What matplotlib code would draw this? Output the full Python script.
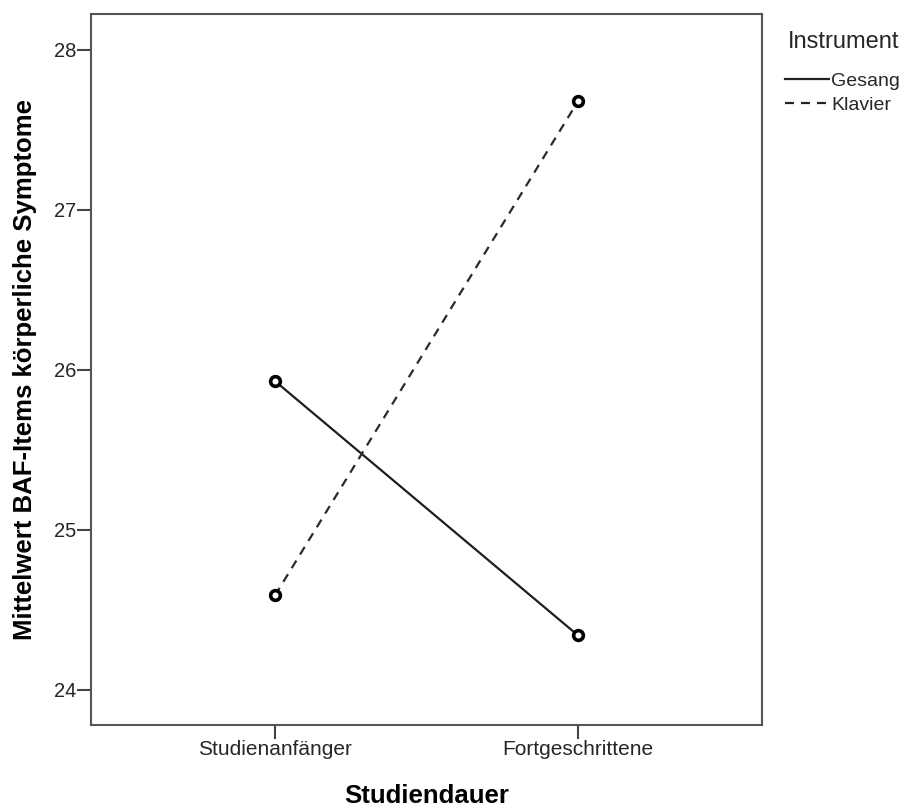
import matplotlib
matplotlib.use("Agg")
import matplotlib.pyplot as plt

categories = ["Studienanfänger", "Fortgeschrittene"]
gesang = [25.93, 24.34]
klavier = [24.59, 27.68]
series_names = ["Gesang", "Klavier"]
yticks = [24, 25, 26, 27, 28]

plt.rcParams['font.family'] = ['Liberation Sans', 'DejaVu Sans']

W, H = 907, 807
fig = plt.figure(figsize=(W / 100, H / 100), dpi=100)
ax = fig.add_axes([91 / W, 1 - 725 / H, (762 - 91) / W, (725 - 14) / H])

x = list(range(len(categories)))
ax.plot(x, gesang, linestyle='-', color='#1e1e1e', lw=1.6, marker='o', ms=7,
        mfc='white', mec='black', mew=2.6, label=series_names[0])
ax.plot(x, klavier, linestyle=(0, (4, 3.2)), color='#2a2a2a', lw=1.6, marker='o', ms=7,
        mfc='white', mec='black', mew=2.6, label=series_names[1])

ax.set_xlim(-0.607, 1.607)
ax.set_ylim(23.78, 28.225)
ax.set_xticks(x)
ax.set_xticklabels(categories, fontsize=15, color='#262626')
ax.set_yticks(yticks)
ax.set_yticklabels([str(v) for v in yticks], fontsize=14.5, color='#262626')
ax.tick_params(axis='both', direction='out', length=10, width=1.5, color='#444444', pad=0.5)
for s in ax.spines.values():
    s.set_color('#555555')
    s.set_linewidth(1.5)

ax.set_xlabel("Studiendauer", fontsize=18.5, fontweight='bold', color='black')
ax.xaxis.label.set_va('baseline')
ax.xaxis.set_label_coords(0.5, (725 - 803) / 711)
ax.set_ylabel("Mittelwert BAF-Items körperliche Symptome", fontsize=18.5, fontweight='bold', color='black')
ax.yaxis.label.set_va('baseline')
ax.yaxis.set_label_coords((32 - 91) / 671, 0.5)

fig.text(788 / W, 1 - 48 / H, "Instrument", fontsize=17, color='#262626', ha='left', va='baseline')
leg = ax.legend(loc='upper left', bbox_to_anchor=(785 / W, 1 - 72 / H), bbox_transform=fig.transFigure,
                frameon=False, fontsize=14, handlelength=2.27, handletextpad=0.1,
                labelspacing=0.35, borderaxespad=0, borderpad=0)
for h in leg.legend_handles:
    h.set_marker('')
    h.set_color('#222222')
for t in leg.get_texts():
    t.set_color('#262626')

fig.savefig("out.png", dpi=100, facecolor='white')
